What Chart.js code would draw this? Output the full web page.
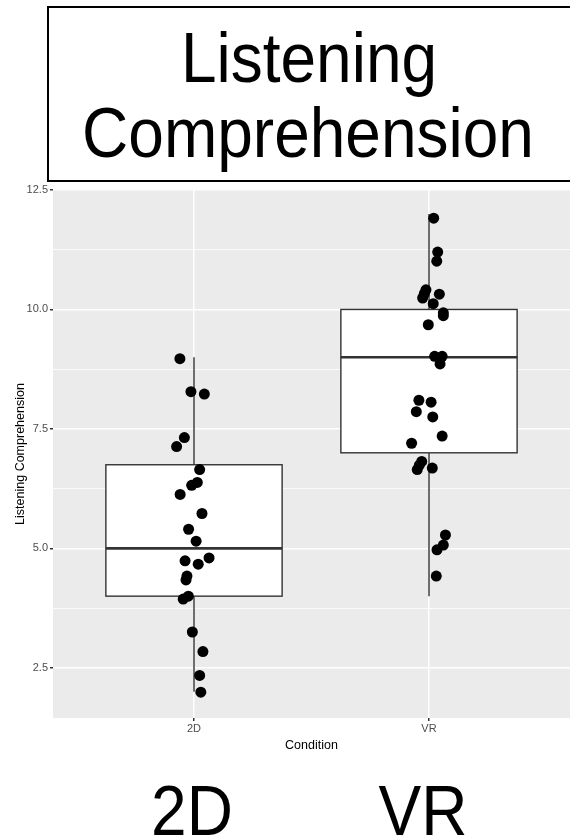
<!DOCTYPE html>
<html>
<head>
<meta charset="utf-8">
<script src="https://cdn.jsdelivr.net/npm/chart.js@4.4.1/dist/chart.umd.min.js"></script>
<style>
  html, body { margin: 0; padding: 0; background: #ffffff; }
  canvas { display: block; }
</style>
</head>
<body>
<canvas id="chart" width="570" height="838"></canvas>
<script>
// categories and tick labels
const categories = ['2D', 'VR'];
const yMajorTicks = [2.5, 5.0, 7.5, 10.0, 12.5];
const yMinorTicks = [3.75, 6.25, 8.75, 11.25];

// box statistics per category: [2D, VR]
const boxLow    = [2.0, 4.0];
const boxQ1     = [4.0, 7.0];
const boxMedian = [5.0, 9.0];
const boxQ3     = [6.75, 10.0];
const boxHigh   = [9.0, 12.0];

const scores2D = [8.97, 8.28, 8.23, 7.32, 7.13, 6.65, 6.38, 6.32, 6.13, 5.73, 5.40, 5.15,
                  4.74, 4.80, 4.67, 4.42, 4.34, 3.94, 4.00, 3.25, 2.84, 2.34, 1.99];
const jitter2D = [-0.060, -0.013, 0.044, -0.041, -0.074, 0.024, 0.014, -0.010, -0.059, 0.034, -0.023, 0.009,
                  -0.038, 0.064, 0.018, -0.030, -0.034, -0.046, -0.024, -0.007, 0.038, 0.024, 0.029];
const scoresVR = [11.91, 11.20, 11.01, 10.41, 10.24, 10.33, 10.32, 10.12, 9.93, 9.87, 9.68, 9.02, 9.02, 8.86,
                  8.10, 8.06, 7.86, 7.75, 7.35, 7.20, 6.82, 6.74, 6.65, 6.68, 5.28, 5.07, 4.97, 4.42];
const jitterVR = [0.020, 0.037, 0.033, -0.013, -0.027, -0.020, 0.044, 0.018, 0.061, 0.061, -0.003, 0.024, 0.056, 0.047,
                  -0.043, 0.009, -0.054, 0.016, 0.056, -0.074, -0.031, -0.041, -0.050, 0.014, 0.070, 0.061, 0.034, 0.031];

const FONT = "'Liberation Sans', Arial, sans-serif";

function toPoints(cat, scores, jitter) {
    return scores.map(function(v, i) {
        return { x: cat + jitter[i], y: v };
    });
}

// grey panel behind everything
const panelBackground = {
    id: 'panelBackground',
    beforeDraw: function(chart) {
        const a = chart.chartArea;
        const ctx = chart.ctx;
        ctx.save();
        ctx.fillStyle = '#EBEBEB';
        ctx.fillRect(a.left, a.top, a.right - a.left, a.bottom - a.top);
        ctx.restore();
    }
};

// boxplot drawn from the scales, under the points
const boxPlot = {
    id: 'boxPlot',
    beforeDatasetsDraw: function(chart) {
        const ctx = chart.ctx;
        const xs = chart.scales.x;
        const ys = chart.scales.y;
        ctx.save();
        categories.forEach(function(c, i) {
            const cx = xs.getPixelForValue(i + 1);
            const x0 = xs.getPixelForValue(i + 1 - 0.375);
            const x1 = xs.getPixelForValue(i + 1 + 0.375);
            const yLo = ys.getPixelForValue(boxLow[i]);
            const yQ1 = ys.getPixelForValue(boxQ1[i]);
            const yMed = ys.getPixelForValue(boxMedian[i]);
            const yQ3 = ys.getPixelForValue(boxQ3[i]);
            const yHi = ys.getPixelForValue(boxHigh[i]);

            ctx.strokeStyle = '#333333';
            ctx.lineWidth = 1.4;
            ctx.beginPath();
            ctx.moveTo(cx, yQ3); ctx.lineTo(cx, yHi);
            ctx.moveTo(cx, yQ1); ctx.lineTo(cx, yLo);
            ctx.stroke();

            ctx.fillStyle = '#ffffff';
            ctx.fillRect(x0, yQ3, x1 - x0, yQ1 - yQ3);
            ctx.strokeRect(x0, yQ3, x1 - x0, yQ1 - yQ3);

            ctx.lineWidth = 2.6;
            ctx.beginPath();
            ctx.moveTo(x0, yMed); ctx.lineTo(x1, yMed);
            ctx.stroke();
        });
        ctx.restore();
    }
};

// boxed title on top and the large condition names under the plot
const annotations = {
    id: 'annotations',
    afterDraw: function(chart) {
        const ctx = chart.ctx;
        ctx.save();
        ctx.strokeStyle = '#000000';
        ctx.lineWidth = 2;
        ctx.strokeRect(48, 7, 530, 174);

        ctx.fillStyle = '#000000';
        ctx.font = '64px ' + FONT;
        ctx.textAlign = 'center';
        ctx.textBaseline = 'alphabetic';
        function big(text, x, y) {
            ctx.save();
            ctx.translate(x, y);
            ctx.scale(1, 1.09);
            ctx.fillText(text, 0, 0);
            ctx.restore();
        }
        big('Listening', 309, 82);
        big('Comprehension', 308, 157);
        big(categories[0], 192, 835);
        big(categories[1], 423, 835);
        ctx.restore();
    }
};

new Chart(document.getElementById('chart'), {
    type: 'scatter',
    data: {
        datasets: [
            { label: categories[0], data: toPoints(1, scores2D, jitter2D) },
            { label: categories[1], data: toPoints(2, scoresVR, jitterVR) }
        ]
    },
    options: {
        responsive: false,
        animation: false,
        devicePixelRatio: 1,
        layout: { autoPadding: false, padding: { top: 190, left: 13, right: 0, bottom: 85 } },
        elements: {
            point: { radius: 5.5, backgroundColor: '#000000', borderColor: '#000000', borderWidth: 0 }
        },
        plugins: {
            legend: { display: false },
            tooltip: { enabled: false }
        },
        scales: {
            x: {
                type: 'linear',
                min: 0.4,
                max: 2.6,
                afterBuildTicks: function(scale) {
                    scale.ticks = categories.map(function(c, i) { return { value: i + 1 }; });
                },
                afterFit: function(scale) { scale.height = 35; },
                border: { display: false },
                grid: { color: '#ffffff', lineWidth: 1.5, tickLength: 3, tickColor: '#333333' },
                ticks: {
                    padding: 1,
                    color: '#4D4D4D',
                    font: { family: FONT, size: 11 },
                    callback: function(v) { return categories[Math.round(v) - 1]; }
                },
                title: {
                    display: true,
                    text: 'Condition',
                    color: '#000000',
                    padding: 0,
                    font: { family: FONT, size: 12.5 }
                }
            },
            y: {
                min: 1.45,
                max: 12.5,
                afterBuildTicks: function(scale) {
                    scale.ticks = yMajorTicks.concat(yMinorTicks)
                        .sort(function(a, b) { return a - b; })
                        .map(function(v) { return { value: v }; });
                },
                afterFit: function(scale) { scale.width = 40; },
                border: { display: false },
                grid: {
                    color: '#ffffff',
                    lineWidth: function(c) { return yMajorTicks.indexOf(c.tick.value) >= 0 ? 1.5 : 0.8; },
                    tickLength: 3,
                    tickColor: function(c) { return yMajorTicks.indexOf(c.tick.value) >= 0 ? '#333333' : 'rgba(0,0,0,0)'; }
                },
                ticks: {
                    padding: 2,
                    color: '#4D4D4D',
                    font: { family: FONT, size: 11 },
                    callback: function(v) { return yMajorTicks.indexOf(v) >= 0 ? v.toFixed(1) : ''; }
                },
                title: {
                    display: true,
                    text: 'Listening Comprehension',
                    color: '#000000',
                    padding: 0,
                    font: { family: FONT, size: 12.5 }
                }
            }
        }
    },
    plugins: [panelBackground, boxPlot, annotations]
});
</script>
</body>
</html>
